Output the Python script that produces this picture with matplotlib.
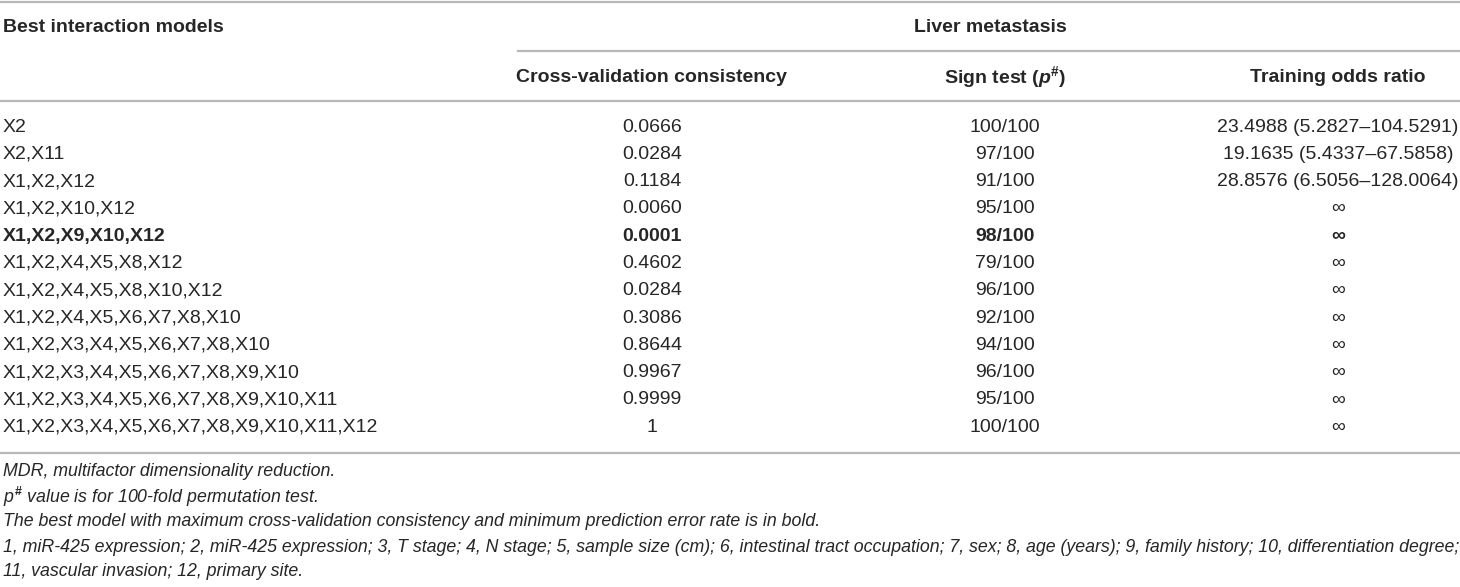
import matplotlib.pyplot as plt

plt.rcParams['font.family'] = ['Liberation Sans', 'DejaVu Sans']
plt.rcParams['mathtext.fontset'] = 'custom'
plt.rcParams['mathtext.rm'] = 'Liberation Sans'
plt.rcParams['mathtext.it'] = 'Liberation Sans:italic'
plt.rcParams['mathtext.bf'] = 'Liberation Sans:bold'
plt.rcParams['mathtext.bfit'] = 'Liberation Sans:italic:bold'

# table content
group_title = "Liver metastasis"
first_header = "Best interaction models"
col_headers = ["Cross-validation consistency",
               r"Sign test ($\mathbfit{p}^{\mathbf{\#}}$)",
               "Training odds ratio"]

models = ["X2", "X2,X11", "X1,X2,X12", "X1,X2,X10,X12", "X1,X2,X9,X10,X12",
          "X1,X2,X4,X5,X8,X12", "X1,X2,X4,X5,X8,X10,X12",
          "X1,X2,X4,X5,X6,X7,X8,X10", "X1,X2,X3,X4,X5,X6,X7,X8,X10",
          "X1,X2,X3,X4,X5,X6,X7,X8,X9,X10",
          "X1,X2,X3,X4,X5,X6,X7,X8,X9,X10,X11",
          "X1,X2,X3,X4,X5,X6,X7,X8,X9,X10,X11,X12"]
consistency = ["0.0666", "0.0284", "0.1184", "0.0060", "0.0001", "0.4602",
               "0.0284", "0.3086", "0.8644", "0.9967", "0.9999", "1"]
sign_test = ["100/100", "97/100", "91/100", "95/100", "98/100", "79/100",
             "96/100", "92/100", "94/100", "96/100", "95/100", "100/100"]
odds_ratio = ["23.4988 (5.2827\u2013104.5291)", "19.1635 (5.4337\u201367.5858)",
              "28.8576 (6.5056\u2013128.0064)"] + ["\u221e"] * 9
best_row = 4

footnotes = [
    "MDR, multifactor dimensionality reduction.",
    r"$\mathit{p}^{\mathbf{\#}}$ value is for 100-fold permutation test.",
    "The best model with maximum cross-validation consistency and minimum prediction error rate is in bold.",
    "1, miR-425 expression; 2, miR-425 expression; 3, T stage; 4, N stage; 5, sample size (cm); "
    "6, intestinal tract occupation; 7, sex; 8, age (years); 9, family history; 10, differentiation degree;",
    "11, vascular invasion; 12, primary site.",
]

# layout in pixels
W, H = 1460, 587
col_x = [652, 1005, 1338]
row_y0, row_dy = 127, 27.3
txt = '#262626'
rule = '#b8b8b8'
fs = 14
fs_note = 12.75

fig = plt.figure(figsize=(W / 100, H / 100), dpi=100)
ax = fig.add_axes([0, 0, 1, 1])
ax.set_xlim(0, W)
ax.set_ylim(H, 0)
ax.axis('off')

# rules
ax.plot([0, W], [1.5, 1.5], color=rule, lw=1.6)
ax.plot([518, W], [51, 51], color=rule, lw=1.6)
ax.plot([0, W], [101, 101], color=rule, lw=1.6)
ax.plot([0, W], [453, 453], color=rule, lw=1.6)

# headers
ax.text(3, 27, first_header, fontsize=fs, fontweight='bold', color=txt, va='center')
ax.text(990, 27, group_title, fontsize=fs, fontweight='bold', color=txt,
        va='center', ha='center')
for x, h in zip(col_x, col_headers):
    ax.text(x, 77, h, fontsize=fs, fontweight='bold', color=txt, va='center', ha='center')

# body
for i, (m, c, s, o) in enumerate(zip(models, consistency, sign_test, odds_ratio)):
    y = row_y0 + i * row_dy
    w = 'bold' if i == best_row else 'normal'
    ax.text(3, y, m, fontsize=fs, fontweight=w, color=txt, va='center')
    for x, v in zip(col_x, [c, s, o]):
        ax.text(x, y, v, fontsize=fs, fontweight=w, color=txt, va='center', ha='center')

# footnotes
for i, f in enumerate(footnotes):
    ax.text(3, 472 + i * 25, f, fontsize=fs_note, style='italic', color=txt, va='center')

fig.savefig('out.png', dpi=100)
